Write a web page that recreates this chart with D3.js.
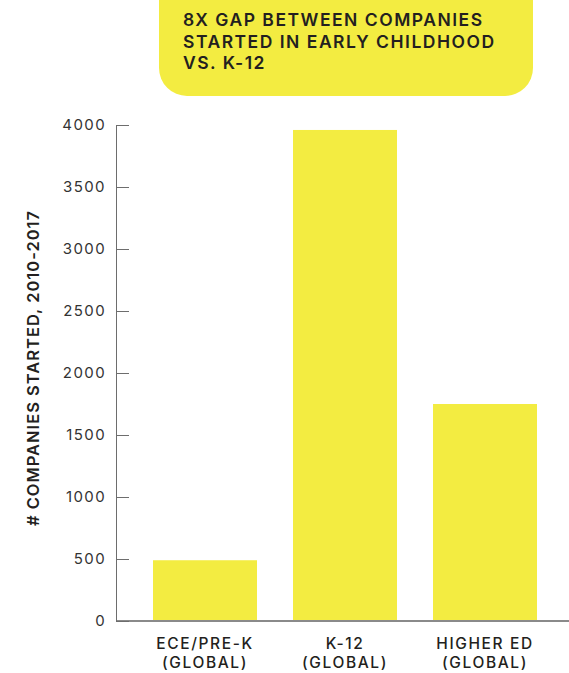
<!DOCTYPE html>
<html>
<head>
<meta charset="utf-8">
<script src="https://cdn.jsdelivr.net/npm/d3@7"></script>
<style>
  body { margin: 0; background: #fff; }
  svg { display: block; font-family: Inter, "DejaVu Sans", sans-serif; }
</style>
</head>
<body>
<div id="chart"></div>
<script>
// data
const categories = ["ECE/PRE-K|(GLOBAL)", "K-12|(GLOBAL)", "HIGHER ED|(GLOBAL)"];
const companies = [490, 3960, 1750];
const yTicks = [0, 500, 1000, 1500, 2000, 2500, 3000, 3500, 4000];
const titleLines = ["8X GAP BETWEEN COMPANIES", "STARTED IN EARLY CHILDHOOD", "VS. K-12"];
const yTitle = "# COMPANIES STARTED, 2010-2017";

const yellow = "#f3ec41";

const svg = d3
  .select("#chart")
  .append("svg")
  .attr("width", 569)
  .attr("height", 673);

// title box, top cut off by the page edge
svg
  .append("rect")
  .attr("x", 159)
  .attr("y", -40)
  .attr("width", 374)
  .attr("height", 136)
  .attr("rx", 28)
  .attr("fill", yellow);

svg
  .append("g")
  .selectAll("text")
  .data(titleLines)
  .join("text")
  .attr("x", 183)
  .attr("y", (d, i) => 26 + i * 21.5)
  .attr("fill", "#231f20")
  .style("font-size", "17.5px")
  .style("letter-spacing", "1.5px")
  .style("font-weight", 600)
  .text((d) => d);

// scales
const x = d3
  .scaleBand()
  .domain(categories)
  .range([135, 555])
  .paddingInner(36 / 140)
  .paddingOuter(18 / 140);

const y = d3.scaleLinear().domain([0, 4000]).range([621, 125]);

// bars
svg
  .append("g")
  .selectAll("rect")
  .data(companies)
  .join("rect")
  .attr("x", (d, i) => x(categories[i]))
  .attr("y", (d) => y(d))
  .attr("width", x.bandwidth())
  .attr("height", (d) => y(0) - y(d))
  .attr("fill", yellow);

// x axis baseline
svg
  .append("line")
  .attr("x1", 116)
  .attr("x2", 569)
  .attr("y1", y(0))
  .attr("y2", y(0))
  .attr("stroke", "#8a8a8a")
  .attr("stroke-width", 2);

// y axis, ticks pointing inward
const yAxis = svg
  .append("g")
  .attr("transform", "translate(116,0)")
  .call(
    d3.axisLeft(y)
      .tickValues(yTicks)
      .tickFormat(d3.format("d"))
      .tickSizeInner(-13)
      .tickSizeOuter(0)
      .tickPadding(10)
  );
yAxis.select(".domain").attr("stroke", "#6d6d6d");
yAxis.selectAll(".tick line").attr("stroke", "#6d6d6d");
yAxis
  .selectAll(".tick text")
  .attr("fill", "#333")
  .style("font-size", "15px")
  .style("letter-spacing", "1.4px")
  .style("font-family", "Inter, sans-serif");

// x labels, two lines each
const xl = svg
  .append("g")
  .selectAll("text")
  .data(categories)
  .join("text")
  .attr("text-anchor", "middle")
  .attr("fill", "#231f20")
  .style("font-size", "15.5px")
  .style("letter-spacing", "1.6px")
  .style("font-weight", 500);
xl.each(function (d) {
  const parts = d.split("|");
  d3.select(this)
    .selectAll("tspan")
    .data(parts)
    .join("tspan")
    .attr("x", x(d) + x.bandwidth() / 2)
    .attr("y", (p, i) => 649 + i * 19)
    .text((p) => p);
});

// y title
svg
  .append("text")
  .attr("transform", "translate(39,368) rotate(-90)")
  .attr("text-anchor", "middle")
  .attr("fill", "#231f20")
  .style("font-size", "16.5px")
  .style("letter-spacing", "1px")
  .style("font-weight", 600)
  .text(yTitle);
</script>
</body>
</html>
